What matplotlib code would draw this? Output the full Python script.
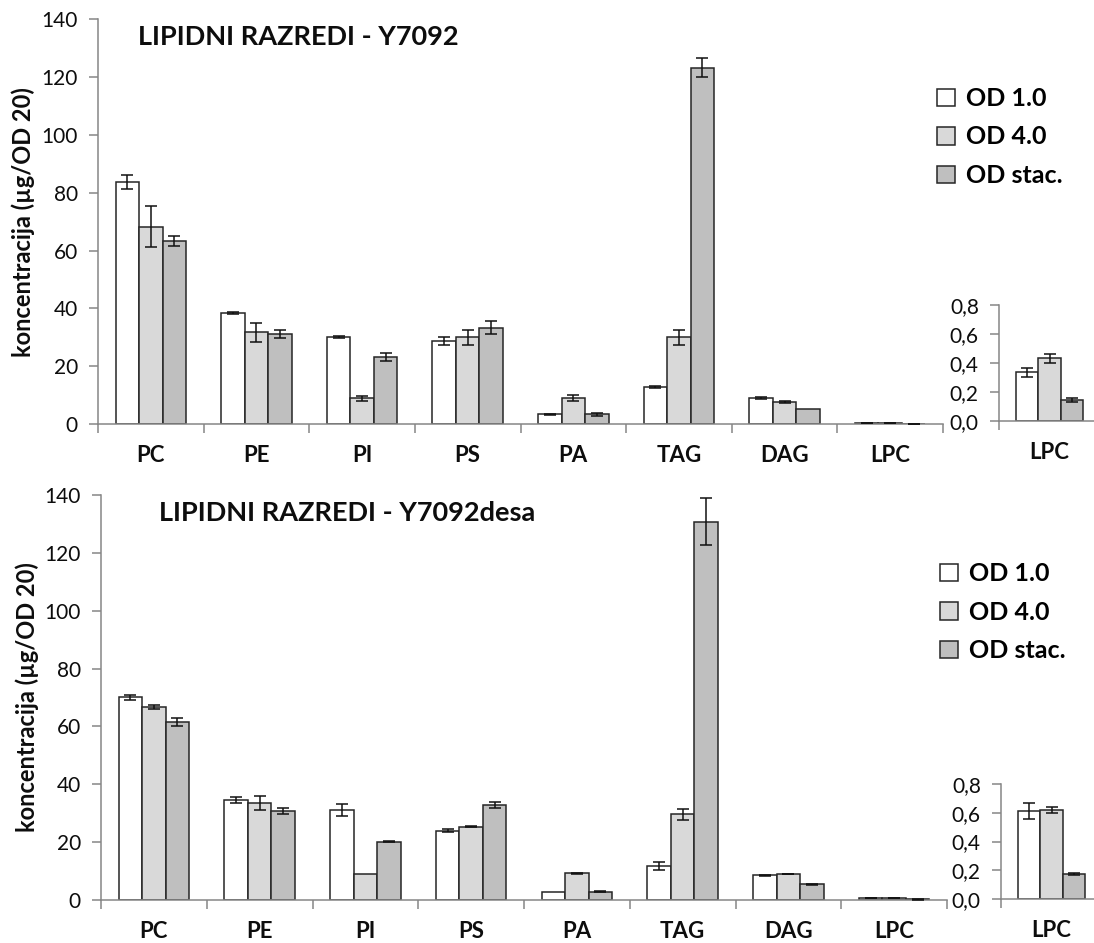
import matplotlib
matplotlib.use("Agg")
import matplotlib.pyplot as plt
import numpy as np

plt.rcParams['font.family'] = ['Lato', 'DejaVu Sans']

# ---- data -------------------------------------------------------------
categories = ["PC", "PE", "PI", "PS", "PA", "TAG", "DAG", "LPC"]
inset_category = ["LPC"]
series_names = ["OD 1.0", "OD 4.0", "OD stac."]

# strain Y7092, concentration in µg/OD 20
y7092_od1 = [83.8, 38.3, 30.0, 28.8, 3.3, 12.7, 8.9, 0.335]
y7092_od1_err = [2.4, 0.4, 0.4, 1.3, 0.3, 0.4, 0.3, 0.031]
y7092_od4 = [68.3, 31.7, 8.9, 30.0, 8.9, 30.0, 7.7, 0.431]
y7092_od4_err = [7.2, 3.4, 0.8, 2.6, 1.1, 2.6, 0.4, 0.031]
y7092_stac = [63.4, 31.1, 23.3, 33.3, 3.3, 123.3, 5.1, 0.143]
y7092_stac_err = [1.7, 1.3, 1.4, 2.2, 0.4, 3.4, 0.0, 0.016]

# strain Y7092desa, concentration in µg/OD 20
desa_od1 = [70.1, 34.6, 31.1, 24.0, 2.9, 11.8, 8.6, 0.612]
desa_od1_err = [0.9, 1.15, 2.1, 0.4, 0.0, 1.45, 0.15, 0.058]
desa_od4 = [66.8, 33.4, 9.0, 25.3, 9.2, 29.6, 9.0, 0.619]
desa_od4_err = [0.75, 2.4, 0.0, 0.2, 0.2, 2.0, 0.15, 0.02]
desa_stac = [61.6, 30.8, 20.2, 32.8, 2.9, 130.7, 5.5, 0.174]
desa_stac_err = [1.4, 1.15, 0.2, 1.0, 0.2, 8.1, 0.2, 0.005]

main_yticks = [0, 20, 40, 60, 80, 100, 120, 140]
inset_yticks = [0.0, 0.2, 0.4, 0.6, 0.8]
inset_yticklabels = ["0,0", "0,2", "0,4", "0,6", "0,8"]

titles = ["LIPIDNI RAZREDI - Y7092", "LIPIDNI RAZREDI - Y7092desa"]
ylabel = "koncentracija (µg/OD 20)"

# ---- style ------------------------------------------------------------
fill_colors = ["#ffffff", "#d9d9d9", "#bfbfbf"]
edge_color = "#262626"
spine_color = "#868686"
text_color = "#0d0d0d"
bar_w = 1 / 4.5

W, H = 1094, 943
fig = plt.figure(figsize=(W / 100, H / 100), dpi=100)


def px_rect(x0, x1, ytop, ybot):
    return [x0 / W, 1 - ybot / H, (x1 - x0) / W, (ybot - ytop) / H]


def style_axes(ax):
    for s in ("top", "right"):
        ax.spines[s].set_visible(False)
    for s in ("left", "bottom"):
        ax.spines[s].set_color(spine_color)
        ax.spines[s].set_linewidth(1.1)
    ax.tick_params(axis="both", which="major", direction="out", length=6.5,
                   width=1.1, color=spine_color, labelsize=15,
                   labelcolor=text_color)
    ax.tick_params(axis="y", pad=8)
    ax.tick_params(axis="x", which="major", labelbottom=False)
    ax.tick_params(axis="x", which="minor", length=0, pad=15,
                   labelsize=16, labelcolor=text_color)


def draw_bars(ax, centers, values, errors):
    handles = []
    for k in range(3):
        xs = np.asarray(centers) + (k - 1) * bar_w
        vals = np.asarray(values[k], dtype=float)
        errs = np.asarray(errors[k], dtype=float)
        h = ax.bar(xs, vals, bar_w, color=fill_colors[k], edgecolor=edge_color,
                   linewidth=1.1, label=series_names[k], zorder=2)
        handles.append(h)
        m = errs > 0
        if m.any():
            ax.errorbar(xs[m], vals[m], yerr=errs[m], fmt="none",
                        ecolor="#111111", elinewidth=1.1, capsize=4.2,
                        capthick=1.1, zorder=3)
    return handles


def draw_panel(main_rect, inset_rect, series, errors, title, title_xy,
               ylab_xy, legend_xy):
    ax = fig.add_axes(main_rect)
    centers = np.arange(len(categories)) + 0.5
    handles = draw_bars(ax, centers, series, errors)
    ax.set_xlim(0, len(categories))
    ax.set_ylim(0, 140)
    ax.set_yticks(main_yticks)
    ax.set_xticks(np.arange(len(categories) + 1))
    ax.set_xticks(centers, minor=True)
    ax.set_xticklabels(categories, minor=True, fontweight="bold")
    style_axes(ax)

    axi = fig.add_axes(inset_rect)
    draw_bars(axi, [0.5], [[s[-1]] for s in series], [[e[-1]] for e in errors])
    axi.set_xlim(0, 1)
    axi.set_ylim(0, 0.8)
    axi.set_yticks(inset_yticks)
    axi.set_yticklabels(inset_yticklabels)
    axi.set_xticks([0])
    axi.set_xticks([0.5], minor=True)
    axi.set_xticklabels(inset_category, minor=True, fontweight="bold")
    style_axes(axi)

    fig.text(title_xy[0] / W, 1 - title_xy[1] / H, title, fontsize=19.5,
             fontweight="bold", color=text_color, ha="left", va="center")
    fig.text(ylab_xy[0] / W, 1 - ylab_xy[1] / H, ylabel, fontsize=17,
             fontweight="bold", color=text_color, rotation=90,
             ha="center", va="center")
    ax.legend(handles=handles, loc="upper left",
              bbox_to_anchor=(legend_xy[0] / W, 1 - legend_xy[1] / H),
              bbox_transform=fig.transFigure, frameon=False, borderpad=0,
              borderaxespad=0, handlelength=0.7, handleheight=0.7,
              handletextpad=0.45, labelspacing=0.62,
              prop={"size": 18, "weight": "bold"})
    return ax, axi


draw_panel(px_rect(98, 943, 19.3, 424), px_rect(999, 1100, 305, 420.7),
           [y7092_od1, y7092_od4, y7092_stac],
           [y7092_od1_err, y7092_od4_err, y7092_stac_err],
           titles[0], (138, 37), (23, 222), (937, 87))

draw_panel(px_rect(101, 947, 495, 900), px_rect(1001, 1102, 784, 899),
           [desa_od1, desa_od4, desa_stac],
           [desa_od1_err, desa_od4_err, desa_stac_err],
           titles[1], (159, 513), (27, 697.5), (940, 562))

fig.savefig("out.png", dpi=100)
